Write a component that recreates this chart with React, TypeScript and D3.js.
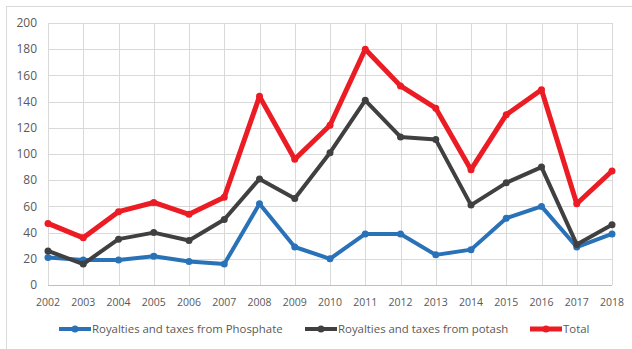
import { useEffect, useRef } from 'react';
import * as d3 from 'd3';

const years = [2002, 2003, 2004, 2005, 2006, 2007, 2008, 2009, 2010, 2011, 2012, 2013, 2014, 2015, 2016, 2017, 2018];
const phosphate = [21, 19, 19, 22, 18, 16, 62, 29, 20, 39, 39, 23, 27, 51, 60, 29, 39];
const potash = [26, 16, 35, 40, 34, 50, 81, 66, 101, 141, 113, 111, 61, 78, 90, 31, 46];
const total = [47, 36, 56, 63, 54, 67, 144, 96, 122, 180, 152, 135, 88, 130, 149, 62, 87];
const yTicks = [0, 20, 40, 60, 80, 100, 120, 140, 160, 180, 200];

const seriesList = [
  { name: 'Royalties and taxes from Phosphate', values: phosphate, color: '#2a72b8', width: 4, legendX: 59 },
  { name: 'Royalties and taxes from potash', values: potash, color: '#404040', width: 4, legendX: 305 },
  { name: 'Total', values: total, color: '#ec1c24', width: 5, legendX: 530 },
];

const W = 632;
const H = 349;
const PLOT = { left: 48, right: 612, top: 23, bottom: 285 };
const FONT = '"Open Sans", "Liberation Sans", sans-serif';

export default function App() {
  const svgRef = useRef<SVGSVGElement>(null);

  useEffect(() => {
    const svg = d3.select(svgRef.current);
    svg.selectAll('*').remove();

    const x = d3.scaleLinear().domain([years[0], years[years.length - 1]]).range([PLOT.left, PLOT.right]);
    const y = d3.scaleLinear().domain([0, 200]).range([PLOT.bottom, PLOT.top]);

    // outer frame (only top and left edges fall inside the picture)
    svg.append('rect')
      .attr('x', 6.5).attr('y', 6.5).attr('width', W + 20).attr('height', H + 20)
      .attr('fill', '#fff').attr('stroke', '#d9d9d9').attr('stroke-width', 1);

    // grid
    const g = svg.append('g');
    g.selectAll('.hgrid').data(yTicks).enter().append('line')
      .attr('x1', PLOT.left).attr('x2', PLOT.right)
      .attr('y1', (d) => Math.round(y(d)) + 0.5).attr('y2', (d) => Math.round(y(d)) + 0.5)
      .attr('stroke', (d) => (d === 0 ? '#bfbfbf' : '#d9d9d9')).attr('stroke-width', 1);
    g.selectAll('.vgrid').data(years).enter().append('line')
      .attr('y1', PLOT.top).attr('y2', PLOT.bottom)
      .attr('x1', (d) => Math.round(x(d)) + 0.5).attr('x2', (d) => Math.round(x(d)) + 0.5)
      .attr('stroke', '#d9d9d9').attr('stroke-width', 1);

    // y labels
    g.selectAll('.ylab').data(yTicks).enter().append('text')
      .attr('x', 37).attr('y', (d) => y(d)).attr('dy', '0.35em')
      .attr('text-anchor', 'end').attr('font-size', 12).attr('font-family', FONT)
      .attr('fill', '#595959').text((d) => d);

    // x labels
    g.selectAll('.xlab').data(years).enter().append('text')
      .attr('x', (d) => x(d)).attr('y', 302).attr('dy', '0.35em')
      .attr('text-anchor', 'middle').attr('font-size', 10.5).attr('font-family', FONT)
      .attr('fill', '#595959').text((d) => d);

    const line = d3.line<number>().x((_, i) => x(years[i])).y((d) => y(d));

    seriesList.forEach((s) => {
      const sg = svg.append('g');
      sg.append('path').datum(s.values).attr('d', line)
        .attr('fill', 'none').attr('stroke', s.color).attr('stroke-width', s.width)
        .attr('stroke-linejoin', 'round');
      sg.selectAll('circle').data(s.values).enter().append('circle')
        .attr('cx', (_, i) => x(years[i])).attr('cy', (d) => y(d)).attr('r', 3.5)
        .attr('fill', s.color);

      // legend
      const ly = 329;
      sg.append('line').attr('x1', s.legendX).attr('x2', s.legendX + 32)
        .attr('y1', ly).attr('y2', ly).attr('stroke', s.color).attr('stroke-width', s.width);
      sg.append('circle').attr('cx', s.legendX + 16).attr('cy', ly).attr('r', 3.5).attr('fill', s.color);
      sg.append('text').attr('x', s.legendX + 33).attr('y', ly).attr('dy', '0.35em')
        .attr('font-size', 11.4).attr('font-family', FONT).attr('fill', '#595959').text(s.name);
    });
  }, []);

  return (
    <svg
      ref={svgRef}
      width={W}
      height={H}
      style={{ position: 'absolute', left: 0, top: 0, display: 'block', background: '#fff' }}
    />
  );
}
